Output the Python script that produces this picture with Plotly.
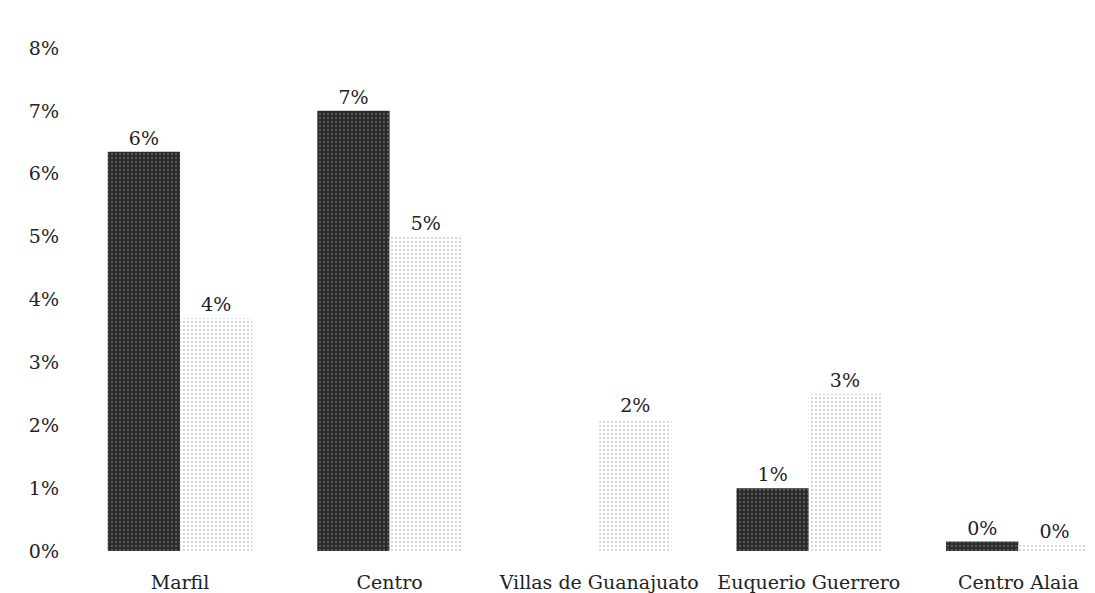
import plotly.graph_objects as go

categories = ["Marfil", "Centro", "Villas de Guanajuato", "Euquerio Guerrero", "Centro Alaia"]
series_a = [0.0635, 0.070, 0.0, 0.010, 0.0015]
series_b = [0.037, 0.050, 0.021, 0.025, 0.001]
labels_a = ["6%", "7%", "", "1%", "0%"]
labels_b = ["4%", "5%", "2%", "3%", "0%"]
tick_vals = [0, 0.01, 0.02, 0.03, 0.04, 0.05, 0.06, 0.07, 0.08]
tick_text = ["0%", "1%", "2%", "3%", "4%", "5%", "6%", "7%", "8%"]

font_family = "DejaVu Serif"
fsize = 19

fig = go.Figure()
fig.add_trace(go.Bar(
    x=categories, y=series_a, text=labels_a,
    marker=dict(color="#2a2a2a", line=dict(width=0),
                pattern=dict(shape=".", fgcolor="#8a8a8a", size=4, solidity=0.25)),
    texttemplate="%{text}", textposition="outside", cliponaxis=False,
    textfont=dict(family=font_family, size=fsize, color="#222"),
    showlegend=False,
))
fig.add_trace(go.Bar(
    x=categories, y=series_b, text=labels_b,
    marker=dict(color="#ffffff", line=dict(width=0),
                pattern=dict(shape=".", fgcolor="#a8a8a8", size=4, solidity=0.25)),
    texttemplate="%{text}", textposition="outside", cliponaxis=False,
    textfont=dict(family=font_family, size=fsize, color="#222"),
    showlegend=False,
))

fig.update_layout(
    width=1095, height=593,
    margin=dict(l=62, r=5, t=40, b=50),
    paper_bgcolor="white", plot_bgcolor="white",
    barmode="group", bargap=0.31, bargroupgap=0.0,
    font=dict(family=font_family, size=fsize, color="#222"),
    xaxis=dict(range=[-0.525, 4.38], showgrid=False, showline=False, zeroline=False,
               ticks="", ticklabelstandoff=18, tickfont=dict(size=fsize)),
    yaxis=dict(range=[0, 0.08], tickvals=tick_vals, ticktext=tick_text,
               showgrid=False, showline=False, zeroline=False, ticks="",
               ticklabelstandoff=10, tickfont=dict(size=fsize)),
)

fig.write_html("out.html")
